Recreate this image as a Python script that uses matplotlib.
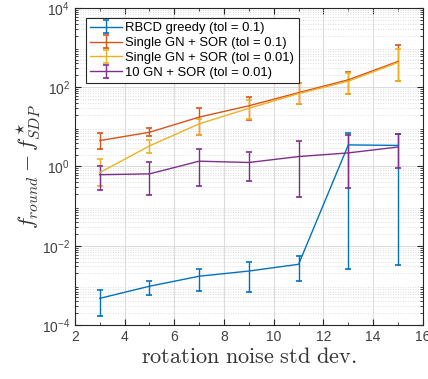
import numpy as np
import matplotlib.pyplot as plt
from matplotlib.ticker import LogLocator, NullFormatter, MultipleLocator

plt.rcParams['mathtext.fontset'] = 'cm'
plt.rcParams['font.family'] = ['Liberation Sans', 'DejaVu Sans']

noise = [3, 5, 7, 9, 11, 13, 15]

# RBCD greedy (tol = 0.1)
rbcd = [4.7e-4, 9.5e-4, 1.7e-3, 2.3e-3, 3.4e-3, 3.5, 3.4]
rbcd_hi = [7.7e-4, 1.3e-3, 2.6e-3, 3.9e-3, 5.5e-3, 7.2, 6.6]
rbcd_lo = [1.7e-4, 5.8e-4, 7.3e-4, 6.8e-4, 1.3e-3, 2.6e-3, 3.3e-3]

# Single GN + SOR (tol = 0.1)
gn1 = [4.5, 7.3, 17.6, 34, 73, 154, 447]
gn1_hi = [6.8, 9.1, 30.7, 58, 131, 245, 1150]
gn1_lo = [2.8, 5.8, 6.3, 15, 38, 68, 142]

# Single GN + SOR (tol = 0.01)
gn2 = [0.70, 3.3, 11.9, 29.4, 69, 142, 420]
gn2_hi = [1.56, 4.7, 16.2, 48, 131, 235, 910]
gn2_lo = [0.33, 2.2, 6.4, 15.6, 38, 68, 142]

# 10 GN + SOR (tol = 0.01)
gn10 = [0.62, 0.65, 1.36, 1.26, 1.78, 2.2, 3.1]
gn10_hi = [1.03, 1.26, 2.8, 2.3, 4.3, 6.4, 6.6]
gn10_lo = [0.26, 0.19, 0.32, 0.43, 0.17, 0.29, 0.94]

labels = ['RBCD greedy (tol = 0.1)', 'Single GN + SOR (tol = 0.1)',
          'Single GN + SOR (tol = 0.01)', '10 GN + SOR (tol = 0.01)']
colors = ['#0072BD', '#D95319', '#EDB120', '#7E2F8E']

series = [(rbcd, rbcd_lo, rbcd_hi), (gn1, gn1_lo, gn1_hi),
          (gn2, gn2_lo, gn2_hi), (gn10, gn10_lo, gn10_hi)]

fig = plt.figure(figsize=(4.28, 3.79), dpi=100)
ax = fig.add_axes([0.175, 0.1425, 0.813, 0.8365])

for (y, lo, hi), c, lab in zip(series, colors, labels):
    y = np.array(y)
    err = [y - np.array(lo), np.array(hi) - y]
    ax.errorbar(noise, y, yerr=err, color=c, lw=1.0, elinewidth=1.0,
                capsize=2.3, capthick=1.2, label=lab)

ax.set_yscale('log')
ax.set_xlim(2, 16)
ax.set_ylim(1e-4, 1e4)
ax.xaxis.set_major_locator(MultipleLocator(2))
ax.xaxis.set_minor_locator(MultipleLocator(1))
ax.set_yticks([1e-4, 1e-2, 1e0, 1e2, 1e4])
ax.yaxis.set_minor_locator(LogLocator(base=10, subs=np.arange(2, 10), numticks=20))
ax.yaxis.set_minor_formatter(NullFormatter())

ax.grid(True, which='major', color='#dcdcdc', lw=0.8)
ax.grid(True, which='minor', axis='y', color='#d0d0d0', lw=0.6, ls=(0, (1, 2)))
ax.set_axisbelow(True)

ax.tick_params(which='both', direction='in', top=True, right=True,
               colors='#262626', labelcolor='#404040', labelsize=10)
ax.tick_params(which='major', length=4)
ax.tick_params(which='minor', length=2)
for s in ax.spines.values():
    s.set_color('#262626')
    s.set_linewidth(0.8)

ax.set_xlabel(r'$\mathrm{rotation\ noise\ std\ dev.}$', fontsize=16, color='#333333', labelpad=2)
ax.set_ylabel(r'$f_{round} - f^\star_{SDP}$', fontsize=16, color='#333333', labelpad=0)

leg = ax.legend(loc='upper left', bbox_to_anchor=(0.012, 0.99), fontsize=9.4,
                fancybox=False, edgecolor='#262626', framealpha=1,
                borderpad=0.35, labelspacing=0.2, handlelength=2.4, handletextpad=0.3)
leg.get_frame().set_linewidth(0.8)

fig.savefig('out.png', dpi=100)
